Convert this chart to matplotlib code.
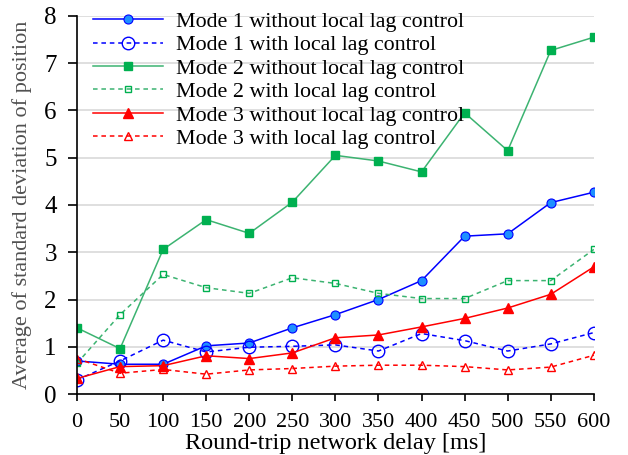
import matplotlib
matplotlib.use("Agg")
import matplotlib.pyplot as plt

# round-trip delay [ms]
delay = [0, 50, 100, 150, 200, 250, 300, 350, 400, 450, 500, 550, 600]

mode1_without = [0.70, 0.63, 0.63, 1.02, 1.08, 1.40, 1.68, 2.00, 2.40, 3.34, 3.39, 4.05, 4.27]
mode1_with = [0.30, 0.70, 1.14, 0.89, 0.99, 1.01, 1.04, 0.91, 1.28, 1.13, 0.91, 1.06, 1.30]
mode2_without = [1.40, 0.96, 3.06, 3.69, 3.40, 4.06, 5.05, 4.93, 4.70, 5.95, 5.15, 7.27, 7.55]
mode2_with = [0.65, 1.68, 2.53, 2.25, 2.13, 2.46, 2.34, 2.13, 2.02, 2.02, 2.40, 2.40, 3.06]
mode3_without = [0.33, 0.58, 0.60, 0.81, 0.75, 0.87, 1.19, 1.25, 1.42, 1.60, 1.82, 2.11, 2.69]
mode3_with = [0.75, 0.44, 0.52, 0.42, 0.51, 0.54, 0.59, 0.61, 0.61, 0.58, 0.51, 0.57, 0.82]

labels = [
    "Mode 1 without local lag control",
    "Mode 1 with local lag control",
    "Mode 2 without local lag control",
    "Mode 2 with local lag control",
    "Mode 3 without local lag control",
    "Mode 3 with local lag control",
]

plt.rcParams["font.family"] = ["Liberation Serif", "DejaVu Serif"]

blue = "#0000ff"
green = "#00b050"
red = "#ff0000"
dash = (0, (3, 2.5))

fig = plt.figure(figsize=(6.28, 4.55), dpi=100)
ax = fig.add_axes([0.1226, 0.134, 0.823, 0.831])

ax.plot(delay, mode1_without, color=blue, lw=1.1, marker="o", ms=6.5,
        mfc="#1e90ff", mec=blue, mew=0.8, label=labels[0])
ax.plot(delay, mode1_with, color=blue, lw=1.1, ls=dash, marker="o", ms=9,
        mfc="none", mec=blue, mew=1.0, label=labels[1])
ax.plot(delay, mode2_without, color="#3cb371", lw=1.1, marker="s", ms=6,
        mfc=green, mec=green, label=labels[2])
ax.plot(delay, mode2_with, color="#3cb371", lw=1.1, ls=dash, marker="s", ms=4.5,
        mfc="none", mec=green, mew=1.0, label=labels[3])
ax.plot(delay, mode3_without, color=red, lw=1.1, marker="^", ms=7,
        mfc=red, mec=red, label=labels[4])
ax.plot(delay, mode3_with, color=red, lw=1.1, ls=dash, marker="^", ms=5.5,
        mfc="none", mec=red, mew=1.0, label=labels[5])

ax.set_xlim(0, 600)
ax.set_ylim(0, 8)
ax.set_xticks(delay)
ax.set_yticks(range(0, 9))
ax.grid(axis="y", color="#d9d9d9", lw=1.2)
ax.set_axisbelow(True)
for s in ["top", "right"]:
    ax.spines[s].set_visible(False)
ax.spines["left"].set_linewidth(1.2)
ax.spines["bottom"].set_linewidth(1.2)
ax.tick_params(width=1.2, direction="out")
ax.tick_params(axis="x", labelsize=16, length=5, pad=9)
ax.tick_params(axis="y", labelsize=18, length=6.5, pad=8)
ax.set_xlabel("Round-trip network delay [ms]", fontsize=17.5, labelpad=0.5)
ax.set_ylabel("Average of standard deviation of position", fontsize=16,
              color="#505050", labelpad=9)

ax.legend(loc="upper left", bbox_to_anchor=(0.014, 1.035), frameon=False,
          fontsize=15.8, handlelength=3.2, labelspacing=0.14, handletextpad=0.6,
          borderaxespad=0.0)

fig.savefig("out.png", dpi=100)
